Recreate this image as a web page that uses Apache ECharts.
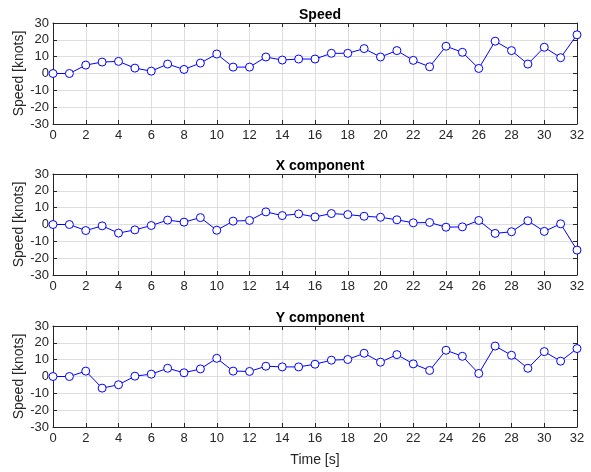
<!DOCTYPE html>
<html><head><meta charset="utf-8">
<script src="https://cdn.jsdelivr.net/npm/echarts@6/dist/echarts.min.js"></script>
<style>html,body{margin:0;padding:0;background:#fff}#c{width:591px;height:472px}</style>
</head><body><div id="c"></div>
<script>
const time = [0,1,2,3,4,5,6,7,8,9,10,11,12,13,14,15,16,17,18,19,20,21,22,23,24,25,26,27,28,29,30,31,32];
const speed = [0,0,5,6.8,7.2,3.2,1.4,5.6,2.4,6.2,11.6,3.8,3.8,9.8,8,8.6,8.6,12,12,14.8,9.8,13.6,7.8,4,16.2,12.6,3,19.2,13.6,5.6,15.6,9.4,23];
const xComp = [0,0,-3.6,-0.8,-5.1,-3.2,-0.6,2.6,1.4,4.1,-3.4,2,2.4,7.5,5.3,6.3,4.5,6.5,5.9,4.9,4.3,2.8,1,1.2,-1.6,-1.4,2.4,-5.3,-4.3,2.2,-4.1,0.4,-15.2];
const yComp = [0,0,3.2,-6.9,-4.9,0.2,1.4,4.9,2.2,4.5,10.8,3.2,3,6.1,5.7,5.7,7.3,9.7,10.1,13.8,8.5,13,7.5,3.6,15.6,12,1.8,18.1,12.6,4.9,14.8,9.1,16.6];
const titles = ['Speed','X component','Y component'];
const yLabel = 'Speed [knots]';
const xLabel = 'Time [s]';
const seriesData = [speed, xComp, yComp];

const tops = [23, 174, 326];
const H = 101;
const L = 53, R = 14;
const axisCol = '#262626';
const font = 'Liberation Sans, Arial, sans-serif';

const grid = [], xAxis = [], yAxis = [], series = [], title = [];
for (let i = 0; i < 3; i++) {
  grid.push({left: L, right: R, top: tops[i], height: H, containLabel: false});
  title.push({text: titles[i], left: 315, top: tops[i] - 20, textAlign: 'center',
    textStyle: {fontFamily: font, fontSize: 14, fontWeight: 'bold', color: '#000'}});
  const common = {type: 'value', min: 0, max: 32, interval: 2, gridIndex: i};
  xAxis.push(Object.assign({}, common, {position: 'bottom',
    name: i === 2 ? xLabel : '', nameLocation: 'middle', nameGap: 26, nameMoveOverlap: false,
    nameTextStyle: {fontFamily: font, fontSize: 14, color: axisCol},
    axisLine: {show: true, onZero: false, lineStyle: {color: axisCol, width: 1}},
    axisTick: {show: true, inside: true, length: 4, lineStyle: {color: axisCol}},
    axisLabel: {fontFamily: font, fontSize: 13, color: axisCol, margin: 5},
    splitLine: {show: true, lineStyle: {color: '#dedede', width: 1}}}));
  xAxis.push(Object.assign({}, common, {position: 'top',
    axisLine: {show: true, onZero: false, lineStyle: {color: axisCol, width: 1}},
    axisTick: {show: true, inside: true, length: 4, lineStyle: {color: axisCol}},
    axisLabel: {show: false}, splitLine: {show: false}}));
  const ycommon = {type: 'value', min: -30, max: 30, interval: 10, gridIndex: i};
  yAxis.push(Object.assign({}, ycommon, {position: 'left',
    name: yLabel, nameLocation: 'middle', nameGap: 27, nameRotate: 90, nameMoveOverlap: false,
    nameTextStyle: {fontFamily: font, fontSize: 14, color: axisCol},
    axisLine: {show: true, onZero: false, lineStyle: {color: axisCol, width: 1}},
    axisTick: {show: true, inside: true, length: 4, lineStyle: {color: axisCol}},
    axisLabel: {fontFamily: font, fontSize: 13, color: axisCol, margin: 4},
    splitLine: {show: true, lineStyle: {color: '#dedede', width: 1}}}));
  yAxis.push(Object.assign({}, ycommon, {position: 'right',
    axisLine: {show: true, onZero: false, lineStyle: {color: axisCol, width: 1}},
    axisTick: {show: true, inside: true, length: 4, lineStyle: {color: axisCol}},
    axisLabel: {show: false}, splitLine: {show: false}}));
  series.push({type: 'line', xAxisIndex: 2*i, yAxisIndex: 2*i,
    data: time.map((t, k) => [t, seriesData[i][k]]),
    symbol: 'circle', symbolSize: 8, showSymbol: true,
    lineStyle: {color: '#0000ff', width: 1},
    itemStyle: {color: '#ffffff', borderColor: '#0000ff', borderWidth: 1},
    emphasis: {disabled: true}, animation: false, z: 5});
}

const chart = echarts.init(document.getElementById('c'), null, {renderer: 'canvas'});
chart.setOption({backgroundColor: '#fff', animation: false, title, grid, xAxis, yAxis, series});
</script></body></html>
